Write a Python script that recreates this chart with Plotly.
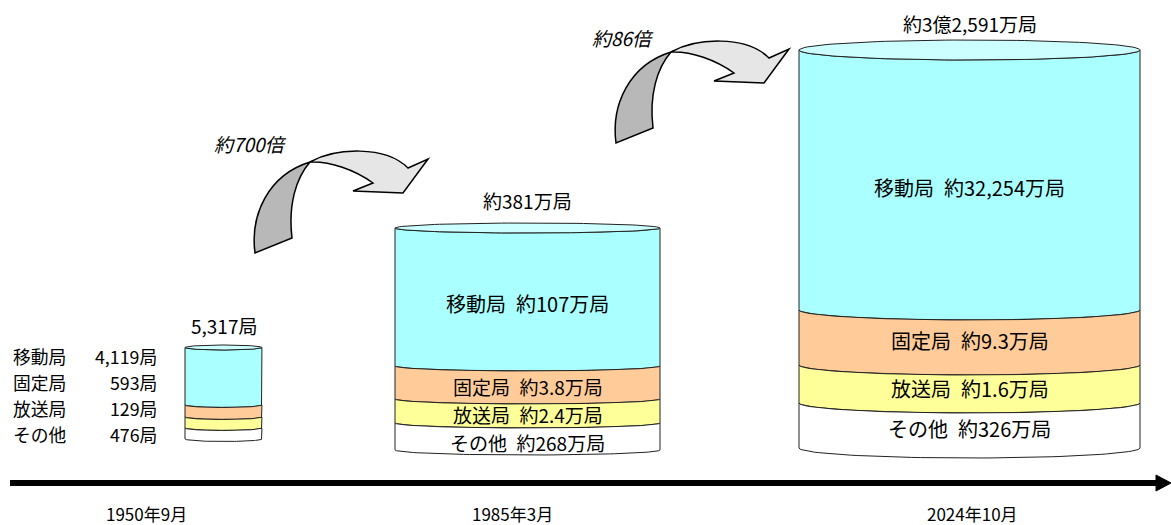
import numpy as np
import plotly.graph_objects as go

# ---- data ----
periods = ["1950年9月", "1985年3月", "2024年10月"]
totals = ["5,317局", "約381万局", "約3億2,591万局"]
station_types = ["移動局", "固定局", "放送局", "その他"]
counts_1950 = [4119, 593, 129, 476]          # 局
counts_1985 = [107, 3.8, 2.4, 268]           # 万局
counts_2024 = [32254, 9.3, 1.6, 326]         # 万局
growth = ["約700倍", "約86倍"]

# ---- drawing settings ----
W, H = 1171, 525
FONT = "Noto Sans CJK JP"
layer_colors = ["#AAFFFF", "#FFCC99", "#FFFF99", "#FFFFFF"]
top_color = "#CCFFFF"
edge_color = "#222222"

# cylinder geometry (page pixel units): centre x, half width, ellipse radius,
# and edge levels of each layer boundary (top, 移動/固定, 固定/放送, 放送/その他, bottom)
cylinders = [
    dict(cx=223.5, rx=38.5, ry=2.5, bounds=[347.5, 405, 417, 428, 439]),
    dict(cx=527.5, rx=132.5, ry=5, bounds=[228, 366, 399, 423, 450]),
    dict(cx=969.5, rx=170.5, ry=10, bounds=[50, 310, 365, 403, 448]),
]
total_label_y = [325, 200, 23]
left_rows_y = [355.5, 381.5, 407.5, 433.5]
inner_rows = [
    None,
    dict(y=[303, 386, 414.5, 442.5], size=[20, 19, 19, 19]),
    dict(y=[187, 340, 388, 428], size=[20, 20, 20, 20]),
]
period_x = [146, 512, 972]
period_y = 513


def fmt(v):
    return f"{int(v):,}" if float(v).is_integer() else f"{v}"


def lower_arc(cx, rx, ry, y, n=60, reverse=False):
    t = np.linspace(0, np.pi, n)
    xs = cx - rx * np.cos(t)
    ys = y + ry * np.sin(t)
    if reverse:
        xs, ys = xs[::-1], ys[::-1]
    return xs, ys


fig = go.Figure()

for cyl in cylinders:
    cx, rx, ry, b = cyl["cx"], cyl["rx"], cyl["ry"], cyl["bounds"]
    for i, col in enumerate(layer_colors):
        x0, y0 = lower_arc(cx, rx, ry, b[i])
        x1, y1 = lower_arc(cx, rx, ry, b[i + 1], reverse=True)
        xs = np.concatenate([x0, x1, x0[:1]])
        ys = np.concatenate([y0, y1, y0[:1]])
        fig.add_trace(go.Scatter(x=xs, y=ys, mode="lines", fill="toself",
                                 fillcolor=col, line=dict(color=edge_color, width=1),
                                 hoverinfo="skip", showlegend=False))
    # top face
    t = np.linspace(0, 2 * np.pi, 120)
    fig.add_trace(go.Scatter(x=cx - rx * np.cos(t), y=b[0] + ry * np.sin(t),
                             mode="lines", fill="toself", fillcolor=top_color,
                             line=dict(color=edge_color, width=1),
                             hoverinfo="skip", showlegend=False))

annotations = []


def label(x, y, text, size=20, anchor="center", italic=False):
    annotations.append(dict(x=x, y=y, xref="x", yref="y", text=text, showarrow=False,
                            xanchor=anchor, yanchor="middle",
                            font=dict(family=FONT, size=size, color="#000000",
                                      style="italic" if italic else "normal")))


# totals above each cylinder
for cyl, txt, ty in zip(cylinders, totals, total_label_y):
    label(cyl["cx"], ty, txt, size=19)

# 1950 breakdown at the left: names and right-aligned counts
for name, v, y in zip(station_types, counts_1950, left_rows_y):
    label(11, y, name, size=17.8, anchor="left")
    label(159, y, f"{fmt(v)}局", size=17.8, anchor="right")

# breakdown inside the two larger cylinders
for cyl, vals, rows in zip(cylinders[1:], [counts_1985, counts_2024], inner_rows[1:]):
    for name, v, y, s in zip(station_types, vals, rows["y"], rows["size"]):
        label(cyl["cx"], y, f"{name}\u2002約{fmt(v)}万局", size=s)

# timeline labels
for x, p in zip(period_x, periods):
    label(x, period_y, p, size=17)

# growth factors
label(250, 143, growth[0], size=19, italic=True)
label(623, 37, growth[1], size=19, italic=True)

# curved growth arrows (twisted ribbon), base outline offset per arrow
arrow_offsets = [(0, 0), (361, -110)]
shapes = []


def pts(s, dx, dy):
    out = []
    for tok in s.split():
        if "," in tok:
            a, c = tok.split(",")
            out.append(f"{float(a) + dx:.1f},{float(c) + dy:.1f}")
        else:
            out.append(tok)
    return " ".join(out)


dark_path = "M 255,253 C 250,215 268,175 310,162 C 296,178 288,205 292,238 Z"
light_path = ("M 310,162 C 335,148 385,145 408,168 L 428,159 L 403,193 L 353,191 "
              "L 373,183 C 355,170 330,161 310,162 Z")
for dx, dy in arrow_offsets:
    shapes.append(dict(type="path", path=pts(light_path, dx, dy), xref="x", yref="y",
                       fillcolor="#E6E6E6", line=dict(color="#000000", width=1.5)))
    shapes.append(dict(type="path", path=pts(dark_path, dx, dy), xref="x", yref="y",
                       fillcolor="#B8B8B8", line=dict(color="#000000", width=1.5)))

# time axis arrow
shapes.append(dict(type="line", x0=10, x1=1160, y0=483, y1=483, xref="x", yref="y",
                   line=dict(color="#000000", width=6)))
shapes.append(dict(type="path", path="M 1156,475 L 1171,483 L 1156,491 Z",
                   xref="x", yref="y", fillcolor="#000000",
                   line=dict(color="#000000", width=1)))

fig.update_layout(
    width=W, height=H,
    margin=dict(l=0, r=0, t=0, b=0),
    paper_bgcolor="white", plot_bgcolor="white",
    xaxis=dict(range=[0, W], visible=False, fixedrange=True),
    yaxis=dict(range=[H, 0], visible=False, fixedrange=True),
    annotations=annotations,
    shapes=shapes,
    showlegend=False,
)

fig.write_html("out.html")
